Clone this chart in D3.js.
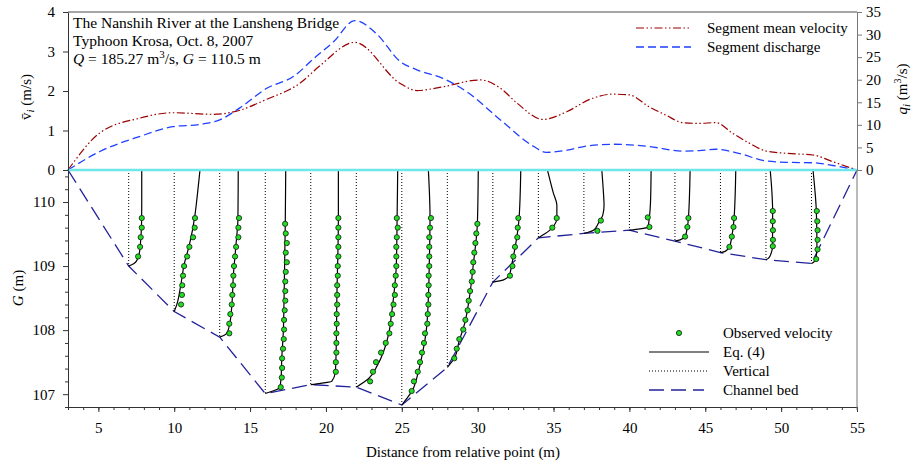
<!DOCTYPE html>
<html>
<head>
<meta charset="utf-8">
<script src="https://cdn.jsdelivr.net/npm/d3@7"></script>
<style>
  html, body { margin: 0; padding: 0; background: #fff; }
  svg text { font-family: "Liberation Serif", "Times New Roman", serif; fill: #000; }
</style>
</head>
<body>
<svg id="chart" width="912" height="465" font-family='"Liberation Serif", "Times New Roman", serif'></svg>
<script>
// ---- data ----
// segment mean velocity (m/s), left upper axis
const velX = [3, 5.1, 7.7, 9.9, 12.6, 13.9, 16.1, 18.3, 19.6, 21.9, 24.9, 26.0, 27.5, 30.2, 31.5, 32.6, 34.3, 35.9, 37.4, 38.9, 40.0, 41.3, 42.4, 43.5, 44.6, 45.7, 46.8, 47.9, 49.0, 50.4, 52.1, 53.4, 55];
const velMean = [0, 0.94, 1.31, 1.45, 1.41, 1.47, 1.79, 2.2, 2.64, 3.23, 2.19, 2.01, 2.09, 2.28, 2.07, 1.69, 1.28, 1.48, 1.79, 1.92, 1.90, 1.60, 1.39, 1.20, 1.18, 1.20, 0.93, 0.68, 0.48, 0.42, 0.38, 0.21, 0];

// segment discharge (m3/s), right axis
const qX = [3, 5.1, 7.7, 9.9, 11.7, 13.0, 14.3, 16.1, 17.9, 19.2, 20.5, 21.9, 23.3, 24.9, 26.0, 27.7, 29.3, 31.5, 33.7, 34.5, 35.9, 37.0, 38.9, 41.3, 43.5, 44.6, 45.7, 47.2, 49.0, 50.4, 52.1, 53.4, 55];
const qSeg = [0, 4.1, 7.4, 9.6, 10.1, 11.1, 13.7, 18.1, 20.8, 24.7, 28.4, 33.1, 30.3, 24.0, 22.2, 20.3, 17.3, 11.1, 5.2, 3.9, 4.4, 5.2, 5.7, 5.2, 4.2, 4.3, 4.6, 3.7, 2.0, 1.7, 1.6, 1.0, 0];

// verticals and channel bed
const verticalX = [7, 10, 13, 16, 19, 22, 25, 28, 31, 34, 37, 40, 43, 46, 49, 52];
const bedX = [3, 7, 10, 13, 16, 19, 22, 25, 28, 31, 34, 37, 40, 43, 46, 49, 52, 55];
const bedG = [110.5, 109.0, 108.29, 107.89, 107.01, 107.15, 107.11, 106.83, 107.42, 108.75, 109.44, 109.51, 109.56, 109.39, 109.21, 109.10, 109.04, 110.5];
const surfaceG = 110.5;

// Eq. (4) velocity profiles per vertical: [G (m), u (m/s)]
const eqProfiles = [
  [[109.0, 0], [109.02, 0.2], [109.06, 0.45], [109.12, 0.6], [109.2, 0.7], [109.4, 0.79], [109.7, 0.85], [110.0, 0.86], [110.5, 0.86]],
  [[108.29, 0], [108.39, 0.16], [108.7, 0.43], [109.02, 0.65], [109.33, 1.0], [109.8, 1.37], [110.1, 1.52], [110.5, 1.70]],
  [[107.89, 0], [107.92, 0.3], [107.97, 0.5], [108.13, 0.68], [108.39, 0.8], [108.86, 0.9], [109.33, 1.07], [109.75, 1.2], [110.5, 1.22]],
  [[107.01, 0], [107.05, 0.5], [107.1, 0.95], [107.24, 1.04], [107.56, 1.09], [107.97, 1.19], [108.5, 1.24], [109.66, 1.32], [110.5, 1.35]],
  [[107.15, 0], [107.17, 0.65], [107.2, 1.38], [107.35, 1.62], [107.66, 1.67], [108.5, 1.72], [109.75, 1.82], [110.5, 1.82]],
  [[107.11, 0], [107.24, 0.80], [107.45, 1.39], [107.66, 1.79], [107.97, 2.16], [108.23, 2.31], [108.5, 2.45], [109.02, 2.64], [109.75, 2.69], [110.5, 2.73]],
  [[106.83, 0], [106.93, 0.32], [107.04, 0.65], [107.35, 1.09], [107.66, 1.38], [107.97, 1.6], [108.5, 1.75], [109.02, 1.81], [109.75, 1.86], [110.5, 1.75]],
  [[107.42, 0], [107.56, 0.46], [107.82, 0.77], [108.13, 1.17], [108.5, 1.45], [109.02, 1.71], [109.66, 1.98], [110.5, 2.04]],
  [[108.75, 0], [108.78, 0.67], [108.86, 1.09], [109.02, 1.24], [109.28, 1.46], [109.75, 1.73], [110.5, 1.84]],
  [[109.44, 0], [109.5, 0.4], [109.55, 0.7], [109.62, 1.0], [109.75, 1.22], [109.95, 1.22], [110.14, 0.99], [110.5, 0.6]],
  [[109.51, 0], [109.56, 0.63], [109.67, 0.96], [109.8, 1.25], [109.95, 1.33], [110.14, 1.29], [110.5, 1.18]],
  [[109.56, 0], [109.58, 0.7], [109.61, 1.22], [109.77, 1.32], [110.06, 1.4], [110.5, 1.43]],
  [[109.39, 0], [109.41, 0.34], [109.46, 0.67], [109.61, 0.82], [109.75, 0.89], [110.5, 1.0]],
  [[109.21, 0], [109.23, 0.31], [109.30, 0.59], [109.46, 0.75], [109.75, 0.9], [110.5, 1.01]],
  [[109.10, 0], [109.12, 0.16], [109.2, 0.34], [109.3, 0.43], [109.86, 0.44], [110.2, 0.38], [110.5, 0.28]],
  [[109.04, 0], [109.07, 0.18], [109.15, 0.31], [109.28, 0.36], [109.86, 0.32], [110.2, 0.22], [110.5, 0.1]]
];

// observed velocities per vertical: [G (m), u (m/s)]
const obsProfiles = [
  [[109.75, 0.86], [109.6, 0.86], [109.45, 0.79], [109.3, 0.75], [109.15, 0.62]],
  [[109.75, 1.37], [109.6, 1.35], [109.45, 1.24], [109.3, 1.0], [109.15, 0.85], [109.0, 0.65], [108.85, 0.58], [108.7, 0.53], [108.55, 0.51], [108.4, 0.45]],
  [[109.75, 1.27], [109.6, 1.23], [109.45, 1.23], [109.3, 1.08], [109.15, 1.01], [109.0, 0.94], [108.85, 0.9], [108.7, 0.88], [108.55, 0.83], [108.4, 0.79], [108.25, 0.70], [108.1, 0.63], [107.95, 0.63]],
  [[109.66, 1.31], [109.51, 1.35], [109.36, 1.42], [109.21, 1.35], [109.06, 1.42], [108.91, 1.35], [108.76, 1.32], [108.61, 1.32], [108.46, 1.32], [108.31, 1.28], [108.16, 1.24], [108.01, 1.24], [107.86, 1.22], [107.71, 1.17], [107.56, 1.11], [107.41, 1.11], [107.26, 1.09], [107.11, 1.02]],
  [[109.75, 1.82], [109.6, 1.82], [109.45, 1.82], [109.3, 1.82], [109.15, 1.82], [109.0, 1.78], [108.85, 1.78], [108.7, 1.74], [108.55, 1.74], [108.4, 1.74], [108.25, 1.71], [108.1, 1.71], [107.95, 1.69], [107.8, 1.69], [107.65, 1.69], [107.5, 1.65], [107.35, 1.65]],
  [[109.75, 2.67], [109.6, 2.73], [109.45, 2.67], [109.3, 2.64], [109.15, 2.64], [109.0, 2.64], [108.85, 2.60], [108.7, 2.54], [108.55, 2.54], [108.4, 2.45], [108.25, 2.36], [108.1, 2.27], [107.95, 2.18], [107.8, 1.94], [107.65, 1.63], [107.5, 1.30], [107.35, 1.10], [107.2, 0.91]],
  [[109.75, 1.92], [109.6, 1.86], [109.45, 1.81], [109.3, 1.81], [109.15, 1.81], [109.0, 1.81], [108.85, 1.77], [108.7, 1.77], [108.55, 1.75], [108.4, 1.75], [108.25, 1.71], [108.1, 1.68], [107.95, 1.53], [107.8, 1.46], [107.65, 1.33], [107.5, 1.20], [107.35, 1.05], [107.2, 0.80], [107.05, 0.65]],
  [[109.66, 1.98], [109.51, 1.91], [109.36, 1.85], [109.21, 1.78], [109.06, 1.71], [108.91, 1.67], [108.76, 1.61], [108.61, 1.50], [108.46, 1.41], [108.31, 1.34], [108.16, 1.19], [108.01, 1.05], [107.86, 0.79], [107.71, 0.62], [107.56, 0.46]],
  [[109.75, 1.68], [109.6, 1.64], [109.45, 1.61], [109.3, 1.46], [109.15, 1.35], [109.0, 1.29], [108.85, 1.13]],
  [[109.75, 1.21], [109.6, 0.92]],
  [[109.71, 1.12], [109.55, 0.89]],
  [[109.76, 1.21], [109.61, 1.32]],
  [[109.75, 0.89], [109.61, 0.82], [109.46, 0.67]],
  [[109.75, 0.90], [109.61, 0.86], [109.46, 0.75], [109.30, 0.59]],
  [[109.86, 0.45], [109.70, 0.45], [109.56, 0.46], [109.41, 0.46], [109.31, 0.45]],
  [[109.86, 0.35], [109.70, 0.38], [109.56, 0.40], [109.41, 0.40], [109.26, 0.40], [109.11, 0.31]]
];

// axis ticks
const xTicks = [5, 10, 15, 20, 25, 30, 35, 40, 45, 50, 55];
const vTicks = [0, 1, 2, 3, 4];
const gTicks = [107, 108, 109, 110];
const gMinor = [106.8, 107.2, 107.4, 107.6, 107.8, 108.2, 108.4, 108.6, 108.8, 109.2, 109.4, 109.6, 109.8, 110.2, 110.4];
const qTicks = [0, 5, 10, 15, 20, 25, 30, 35];

// ---- layout ----
const FONT = '"Liberation Serif", "Times New Roman", serif';
const M = { left: 68, right: 857, top: 12, zero: 170, bottom: 407 };
const C = { vel: '#990000', q: '#1f3fff', bed: '#22229a', cyan: '#6fe6ea', dot: '#22dd22' };

const svg = d3.select('#chart');

const x = d3.scaleLinear().domain([3, 55]).range([M.left, M.right]);
const yV = d3.scaleLinear().domain([0, 4]).range([M.zero, M.top]);
const yQ = d3.scaleLinear().domain([0, 35]).range([M.zero, M.top]);
const yG = d3.scaleLinear().domain([106.8, 110.5]).range([M.bottom, M.zero]);

// top panel curves
const velLine = d3.line().x(d => x(d[0])).y(d => yV(d[1])).curve(d3.curveMonotoneX);
svg.append('path')
  .attr('d', velLine(velX.map((v, i) => [v, velMean[i]])))
  .attr('fill', 'none').attr('stroke', C.vel).attr('stroke-width', 1.2)
  .attr('stroke-dasharray', '8,2.5,1.5,2.5,1.5,2.5');

const qLine = d3.line().x(d => x(d[0])).y(d => yQ(d[1])).curve(d3.curveMonotoneX);
svg.append('path')
  .attr('d', qLine(qX.map((v, i) => [v, qSeg[i]])))
  .attr('fill', 'none').attr('stroke', C.q).attr('stroke-width', 1.3)
  .attr('stroke-dasharray', '8,4');

// verticals
svg.append('g').selectAll('line').data(verticalX).enter().append('line')
  .attr('x1', d => x(d)).attr('x2', d => x(d))
  .attr('y1', yG(surfaceG))
  .attr('y2', d => yG(bedG[bedX.indexOf(d)]))
  .attr('stroke', '#000').attr('stroke-width', 1).attr('stroke-dasharray', '1,2');

// channel bed
svg.append('path')
  .attr('d', d3.line().x(d => x(d[0])).y(d => yG(d[1]))(bedX.map((v, i) => [v, bedG[i]])))
  .attr('fill', 'none').attr('stroke', C.bed).attr('stroke-width', 1.3)
  .attr('stroke-dasharray', '15,7');

// Eq. (4) profiles
const profLine = d3.line().curve(d3.curveMonotoneY);
eqProfiles.forEach((prof, i) => {
  const vx = verticalX[i];
  const pts = prof.slice().sort((a, b) => b[0] - a[0]).map(d => [x(vx + d[1]), yG(d[0])]);
  svg.append('path').attr('d', profLine(pts))
    .attr('fill', 'none').attr('stroke', '#000').attr('stroke-width', 1.2);
});

// observed dots
obsProfiles.forEach((obs, i) => {
  const vx = verticalX[i];
  svg.append('g').selectAll('circle').data(obs).enter().append('circle')
    .attr('cx', d => x(vx + d[1])).attr('cy', d => yG(d[0])).attr('r', 2.6)
    .attr('fill', C.dot).attr('stroke', '#1b2e1b').attr('stroke-width', 0.9);
});

// water surface line
svg.append('line')
  .attr('x1', M.left).attr('x2', M.right).attr('y1', M.zero).attr('y2', M.zero)
  .attr('stroke', C.cyan).attr('stroke-width', 2.5);

// frame top
svg.append('line')
  .attr('x1', M.left).attr('x2', M.right).attr('y1', M.top).attr('y2', M.top)
  .attr('stroke', '#888').attr('stroke-width', 1.6);

// ---- axes ----
function styleAxis(g, col) {
  g.attr('font-family', FONT);
  g.selectAll('text').attr('font-family', FONT).attr('font-size', 15).attr('fill', '#000');
  g.selectAll('line, path').attr('stroke', col);
}

svg.append('g').attr('transform', `translate(${M.left},0)`)
  .call(d3.axisLeft(yV).tickValues(vTicks).tickSize(5).tickSizeOuter(0).tickPadding(8).tickFormat(d3.format('d')))
  .call(g => styleAxis(g, '#333'));

svg.append('g').attr('transform', `translate(${M.left},0)`)
  .call(d3.axisLeft(yG).tickValues(gTicks).tickSize(5).tickSizeOuter(0).tickPadding(8).tickFormat(d3.format('d')))
  .call(g => styleAxis(g, '#333'));

svg.append('g').attr('transform', `translate(${M.left},0)`)
  .call(d3.axisLeft(yG).tickValues(gMinor).tickSize(3).tickSizeOuter(0).tickFormat(''))
  .call(g => styleAxis(g, '#333'));

svg.append('g').attr('transform', `translate(0,${M.bottom})`)
  .call(d3.axisBottom(x).tickValues(xTicks).tickSize(5).tickSizeOuter(0).tickPadding(10))
  .call(g => styleAxis(g, '#333'));

svg.append('g').attr('transform', `translate(0,${M.bottom})`)
  .call(d3.axisBottom(x).tickValues(d3.range(3, 56)).tickSize(3).tickSizeOuter(0).tickFormat(''))
  .call(g => styleAxis(g, '#333'));

svg.append('g').attr('transform', `translate(${M.right},0)`)
  .call(d3.axisRight(yQ).tickValues(qTicks).tickSize(5).tickSizeOuter(0).tickPadding(4))
  .call(g => styleAxis(g, '#777'));

svg.append('line')
  .attr('x1', M.right).attr('x2', M.right).attr('y1', M.zero).attr('y2', M.bottom + 3)
  .attr('stroke', '#777').attr('stroke-width', 1);

// axis titles
svg.append('text').attr('x', 463).attr('y', 457).attr('text-anchor', 'middle')
  .attr('font-size', 15).text('Distance from relative point (m)');

const vLab = svg.append('text').attr('transform', 'translate(31,97) rotate(-90)')
  .attr('text-anchor', 'middle').attr('font-size', 15);
vLab.append('tspan').text('v\u0304');
vLab.append('tspan').attr('font-style', 'italic').attr('font-size', 11).attr('dy', 3).text('i');
vLab.append('tspan').attr('dy', -3).text(' (m/s)');

const gLab = svg.append('text').attr('transform', 'translate(23,288) rotate(-90)')
  .attr('text-anchor', 'middle').attr('font-size', 15);
gLab.append('tspan').attr('font-style', 'italic').text('G');
gLab.append('tspan').text(' (m)');

const qLab = svg.append('text').attr('transform', 'translate(907,89) rotate(-90)')
  .attr('text-anchor', 'middle').attr('font-size', 15);
qLab.append('tspan').attr('font-style', 'italic').text('q');
qLab.append('tspan').attr('font-style', 'italic').attr('font-size', 11).attr('dy', 3).text('i');
qLab.append('tspan').attr('dy', -3).text(' (m');
qLab.append('tspan').attr('font-size', 10).attr('dy', -6).text('3');
qLab.append('tspan').attr('dy', 6).text('/s)');

// annotation
const note = svg.append('g').attr('font-size', 15.5);
note.append('text').attr('x', 73).attr('y', 28).text('The Nanshih River at the Lansheng Bridge');
note.append('text').attr('x', 73).attr('y', 46).text('Typhoon Krosa, Oct. 8, 2007');
const n3 = note.append('text').attr('x', 73).attr('y', 64);
n3.append('tspan').attr('font-style', 'italic').text('Q');
n3.append('tspan').text(' = 185.27 m');
n3.append('tspan').attr('font-size', 11).attr('dy', -6).text('3');
n3.append('tspan').attr('dy', 6).text('/s, ');
n3.append('tspan').attr('font-style', 'italic').text('G');
n3.append('tspan').text(' = 110.5 m');

// legends
const leg1 = svg.append('g').attr('font-size', 15);
leg1.append('line').attr('x1', 636).attr('x2', 691).attr('y1', 28).attr('y2', 28)
  .attr('stroke', C.vel).attr('stroke-width', 1.2).attr('stroke-dasharray', '8,2.5,1.5,2.5,1.5,2.5');
leg1.append('text').attr('x', 707).attr('y', 33).text('Segment mean velocity');
leg1.append('line').attr('x1', 636).attr('x2', 691).attr('y1', 47).attr('y2', 47)
  .attr('stroke', C.q).attr('stroke-width', 1.3).attr('stroke-dasharray', '8,4');
leg1.append('text').attr('x', 707).attr('y', 52).text('Segment discharge');

const leg2 = svg.append('g').attr('font-size', 15);
leg2.append('circle').attr('cx', 679).attr('cy', 333).attr('r', 2.6)
  .attr('fill', C.dot).attr('stroke', '#1b2e1b').attr('stroke-width', 0.9);
leg2.append('text').attr('x', 723).attr('y', 338).text('Observed velocity');
leg2.append('line').attr('x1', 649).attr('x2', 709).attr('y1', 352).attr('y2', 352)
  .attr('stroke', '#000').attr('stroke-width', 1.2);
leg2.append('text').attr('x', 723).attr('y', 357).text('Eq. (4)');
leg2.append('line').attr('x1', 649).attr('x2', 709).attr('y1', 371).attr('y2', 371)
  .attr('stroke', '#000').attr('stroke-width', 1).attr('stroke-dasharray', '1,2');
leg2.append('text').attr('x', 723).attr('y', 376).text('Vertical');
leg2.append('line').attr('x1', 649).attr('x2', 704).attr('y1', 390).attr('y2', 390)
  .attr('stroke', C.bed).attr('stroke-width', 1.3).attr('stroke-dasharray', '15,7');
leg2.append('text').attr('x', 723).attr('y', 395).text('Channel bed');
</script>
</body>
</html>
